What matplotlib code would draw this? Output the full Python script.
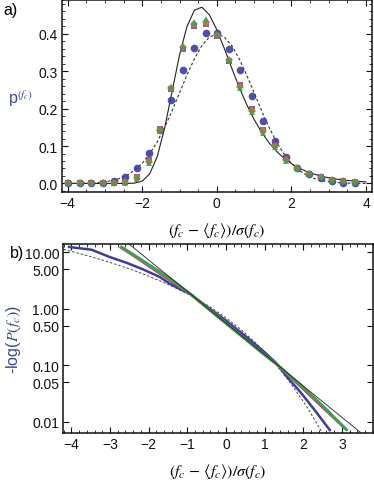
import matplotlib
matplotlib.use("Agg")
import matplotlib.pyplot as plt
from matplotlib.ticker import FixedLocator, MultipleLocator, NullFormatter

plt.rcParams['font.family'] = ['Liberation Sans', 'DejaVu Sans']
plt.rcParams['mathtext.fontset'] = 'stix'

# --- panel a: histogram points ---
x_pts = [-3.98, -3.67, -3.37, -3.06, -2.75, -2.45, -2.14, -1.83, -1.52, -1.22, -0.91, -0.60, -0.30,
         0.01, 0.32, 0.63, 0.93, 1.24, 1.55, 1.85, 2.16, 2.47, 2.78, 3.08, 3.39, 3.70]
blue_pts = [0.0, 0.0, 0.0, 0.002, 0.006, 0.018, 0.040, 0.081, 0.143, 0.222, 0.302, 0.363, 0.402,
            0.401, 0.359, 0.302, 0.234, 0.167, 0.114, 0.070, 0.042, 0.025, 0.014, 0.007, 0.002, 0.0]
pink_pts = [0.0, 0.0, 0.0, 0.0, 0.001, 0.004, 0.018, 0.062, 0.145, 0.253, 0.360, 0.420, 0.425,
            0.394, 0.328, 0.262, 0.198, 0.143, 0.102, 0.068, 0.040, 0.026, 0.016, 0.010, 0.006, 0.004]
yellow_pts = [0.0, 0.0, 0.0, 0.0, 0.001, 0.003, 0.015, 0.058, 0.143, 0.256, 0.365, 0.427, 0.432,
              0.396, 0.329, 0.258, 0.194, 0.140, 0.099, 0.064, 0.040, 0.026, 0.016, 0.010, 0.006, 0.004]
green_pts = [0.0, 0.0, 0.0, 0.0, 0.0, 0.002, 0.012, 0.055, 0.140, 0.258, 0.368, 0.432, 0.438,
             0.397, 0.330, 0.254, 0.190, 0.136, 0.097, 0.060, 0.040, 0.025, 0.016, 0.010, 0.006, 0.003]

# reference curves
curve_x = [-4.0, -3.8, -3.6, -3.4, -3.2, -3.0, -2.8, -2.6, -2.4, -2.2, -2.0, -1.8, -1.6, -1.4,
           -1.2, -1.0, -0.8, -0.6, -0.4, -0.2, 0.0, 0.2, 0.4, 0.6, 0.8, 1.0, 1.2, 1.4, 1.6,
           1.8, 2.0, 2.2, 2.4, 2.6, 2.8, 3.0, 3.2, 3.4, 3.6, 3.8, 4.0]
gumbel_pdf = [0.0, 0.0, 0.0, 0.0, 0.0, 0.0, 0.0, 0.0, 0.0001, 0.001, 0.0063, 0.0255, 0.0709, 0.1474,
              0.2452, 0.3429, 0.4194, 0.4626, 0.4709, 0.4504, 0.4107, 0.3608, 0.3080, 0.2572, 0.2110,
              0.1709, 0.1370, 0.1089, 0.0860, 0.0677, 0.0530, 0.0414, 0.0323, 0.0251, 0.0195, 0.0152,
              0.0118, 0.0091, 0.0071, 0.0055, 0.0042]
gauss_pdf = [0.0001, 0.0003, 0.0006, 0.0012, 0.0024, 0.0044, 0.0079, 0.0136, 0.0224, 0.0355, 0.0540,
             0.0790, 0.1109, 0.1497, 0.1942, 0.2420, 0.2897, 0.3332, 0.3683, 0.3910, 0.3989, 0.3910,
             0.3683, 0.3332, 0.2897, 0.2420, 0.1942, 0.1497, 0.1109, 0.0790, 0.0540, 0.0355, 0.0224,
             0.0136, 0.0079, 0.0044, 0.0024, 0.0012, 0.0006, 0.0003, 0.0001]

# --- panel b: -log P curves ---
gumbel_b_x = [-2.6, -2.0, -1.0, 0.0, 1.0, 2.0, 3.0, 3.6]
gumbel_b = [15.75, 7.30, 2.024, 0.561, 0.156, 0.0432, 0.0120, 0.0056]
gauss_b_x = [-4.2, -4.0, -3.6, -3.2, -2.8, -2.4, -2.0, -1.6, -1.2, -0.8, -0.4, 0.0, 0.4, 0.8,
             1.2, 1.6, 2.0, 2.2, 2.4, 2.6]
gauss_b = [11.22, 10.36, 8.75, 7.28, 5.97, 4.80, 3.78, 2.90, 2.16, 1.552, 1.065, 0.693, 0.4225,
           0.2381, 0.1223, 0.0564, 0.0230, 0.0140, 0.00823, 0.00467]
blue_b_x = [-4.06, -3.48, -3.0, -2.57, -2.14, -1.71, -1.45, -1.2, -0.93, -0.5, 0.0, 0.5, 1.0,
            1.3, 1.6, 1.92, 2.3, 2.69]
blue_b = [12.4, 11.1, 8.2, 6.5, 4.96, 3.64, 2.77, 2.25, 1.84, 1.10, 0.62, 0.33, 0.17, 0.11,
          0.060, 0.034, 0.016, 0.0071]
pink_b_x = [-2.72, -2.68, -2.5, -2.0, -1.45, -0.93, -0.5, 0.0, 0.5, 1.0, 1.3, 2.0, 2.5, 3.08]
pink_b = [12.1, 11.6, 9.7, 5.7, 3.17, 1.84, 1.05, 0.55, 0.29, 0.152, 0.106, 0.038, 0.018, 0.0076]
yellow_b_x = [-2.71, -2.67, -2.5, -2.0, -1.45, -0.93, -0.5, 0.0, 0.5, 1.0, 1.3, 2.0, 2.5, 3.10]
yellow_b = [12.2, 11.7, 9.9, 5.9, 3.3, 1.85, 1.055, 0.552, 0.291, 0.153, 0.106, 0.040, 0.019, 0.0074]
green_b_x = [-2.70, -2.66, -2.5, -2.0, -1.45, -0.93, -0.5, 0.0, 0.5, 1.0, 1.3, 2.0, 2.5, 3.13]
green_b = [12.4, 11.9, 10.2, 6.1, 3.47, 1.86, 1.06, 0.555, 0.293, 0.154, 0.107, 0.041, 0.0195, 0.0072]

log_ticks = [0.01, 0.05, 0.1, 0.5, 1.0, 5.0, 10.0]
log_labels = ['0.01', '0.05', '0.10', '0.50', '1.00', '5.00', '10.00']

BLUE = '#3d3d9c'
PINK = '#9c3d72'
YELLOW = '#9c8c3d'
GREEN = '#3d9c5a'
LABEL_BLUE = '#3c4a86'

fig = plt.figure(figsize=(3.74, 4.81), dpi=100)

# ---------- panel a ----------
ax1 = fig.add_axes([62 / 374, 1 - 192.7 / 481, 310 / 374, 191.7 / 481])
ax1.plot(curve_x, gumbel_pdf, color='#222222', lw=0.8, zorder=2)
ax1.plot(curve_x, gauss_pdf, color='#333333', lw=0.8, dashes=(2.5, 2), zorder=2)
ax1.plot(x_pts, blue_pts, 'o', color=BLUE, ms=5.5, mew=0, alpha=0.9, zorder=3)
ax1.plot(x_pts, pink_pts, 's', color=PINK, ms=4.8, mew=0, alpha=0.85, zorder=4)
ax1.plot(x_pts, yellow_pts, 'D', color=YELLOW, ms=4.2, mew=0, alpha=0.85, zorder=5)
ax1.plot(x_pts, green_pts, '^', color=GREEN, ms=5.0, mew=0, alpha=0.85, zorder=6)
ax1.set_xlim(-4.15, 4.16)
ax1.set_ylim(-0.022, 0.49)
ax1.set_xticks([-4, -2, 0, 2, 4])
ax1.set_xticklabels(['\u22124', '\u22122', '0', '2', '4'])
ax1.set_yticks([0.0, 0.1, 0.2, 0.3, 0.4])
ax1.set_yticklabels(['0.0', '0.1', '0.2', '0.3', '0.4'])
ax1.xaxis.set_minor_locator(MultipleLocator(0.5))
ax1.yaxis.set_minor_locator(MultipleLocator(0.02))
ax1.set_xlabel(r'$(f_c\,-\,\langle f_c\rangle)/\sigma(f_c)$', fontsize=11.5, labelpad=7)
ax1.text(-0.135, 0.49, r'p$^{(f_c)}$', transform=ax1.transAxes, fontsize=11.5,
         color=LABEL_BLUE, ha='center', va='center')
fig.text(0.008, 0.978, 'a)', fontsize=11.5, ha='left', va='center')

# ---------- panel b ----------
ax2 = fig.add_axes([63.3 / 374, 1 - 434.3 / 481, 309.4 / 374, 189.3 / 481])
ax2.set_yscale('log')
ax2.plot(gumbel_b_x, gumbel_b, color='#222222', lw=0.6, zorder=5)
ax2.plot(gauss_b_x, gauss_b, color='#444444', lw=0.7, dashes=(2.5, 2), zorder=1)
ax2.plot(blue_b_x, blue_b, color=BLUE, lw=1.8, zorder=2)
ax2.plot(pink_b_x, pink_b, color=PINK, lw=1.8, zorder=3)
ax2.plot(yellow_b_x, yellow_b, color=YELLOW, lw=1.8, zorder=3)
ax2.plot(green_b_x, green_b, color=GREEN, lw=1.8, zorder=4)
ax2.set_xlim(-4.21, 3.80)
ax2.set_ylim(0.00624, 14.0)
ax2.set_xticks([-4, -3, -2, -1, 0, 1, 2, 3])
ax2.set_xticklabels(['\u22124', '\u22123', '\u22122', '\u22121', '0', '1', '2', '3'])
ax2.xaxis.set_minor_locator(MultipleLocator(0.2))
ax2.yaxis.set_major_locator(FixedLocator(log_ticks))
ax2.set_yticklabels(log_labels)
ax2.yaxis.set_minor_locator(FixedLocator([]))
ax2.yaxis.set_minor_formatter(NullFormatter())
ax2.set_xlabel(r'$(f_c\,-\,\langle f_c\rangle)/\sigma(f_c)$', fontsize=11.5, labelpad=7)
ax2.set_ylabel(r'-log($P(f_c)$)', fontsize=11.5, color=LABEL_BLUE, labelpad=1)
fig.text(0.027, 0.472, 'b)', fontsize=11.5, ha='left', va='center')

for ax in (ax1, ax2):
    for sp in ax.spines.values():
        sp.set_linewidth(1.1)
        sp.set_color('#111111')
    ax.tick_params(which='both', direction='in', top=True, right=True, labelsize=10,
                   colors='#111111')
    ax.tick_params(which='major', length=4, width=0.8, pad=3)
    ax.tick_params(which='minor', length=2, width=0.6)

fig.savefig('out.png', dpi=100)
